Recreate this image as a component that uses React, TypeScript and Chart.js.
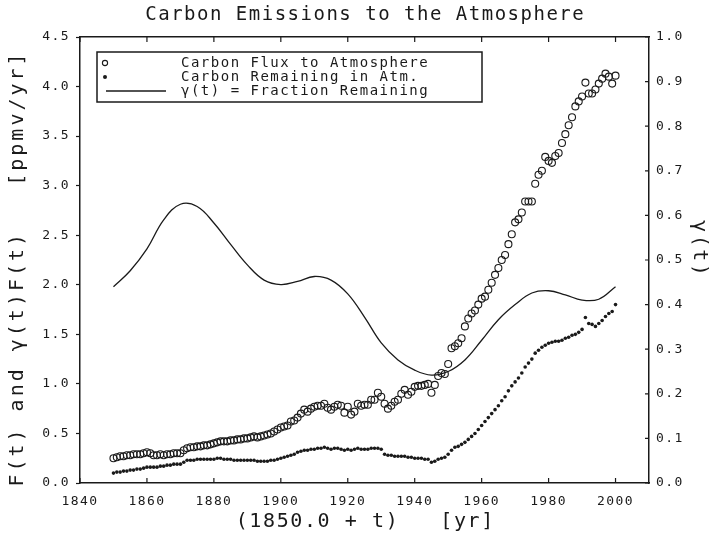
import { useEffect, useRef } from 'react';
import { Chart, registerables } from 'chart.js';
Chart.register(...registerables);

const years = [
  1850,1851,1852,1853,1854,1855,1856,1857,1858,1859,
  1860,1861,1862,1863,1864,1865,1866,1867,1868,1869,
  1870,1871,1872,1873,1874,1875,1876,1877,1878,1879,
  1880,1881,1882,1883,1884,1885,1886,1887,1888,1889,
  1890,1891,1892,1893,1894,1895,1896,1897,1898,1899,
  1900,1901,1902,1903,1904,1905,1906,1907,1908,1909,
  1910,1911,1912,1913,1914,1915,1916,1917,1918,1919,
  1920,1921,1922,1923,1924,1925,1926,1927,1928,1929,
  1930,1931,1932,1933,1934,1935,1936,1937,1938,1939,
  1940,1941,1942,1943,1944,1945,1946,1947,1948,1949,
  1950,1951,1952,1953,1954,1955,1956,1957,1958,1959,
  1960,1961,1962,1963,1964,1965,1966,1967,1968,1969,
  1970,1971,1972,1973,1974,1975,1976,1977,1978,1979,
  1980,1981,1982,1983,1984,1985,1986,1987,1988,1989,
  1990,1991,1992,1993,1994,1995,1996,1997,1998,1999,
  2000,
];

const fluxToAtmosphere = [
  0.25,0.26,0.27,0.27,0.28,0.28,0.29,0.29,0.29,0.30,
  0.31,0.30,0.28,0.28,0.29,0.28,0.29,0.29,0.30,0.30,
  0.30,0.33,0.35,0.36,0.36,0.37,0.37,0.38,0.38,0.39,
  0.40,0.41,0.42,0.42,0.42,0.43,0.43,0.44,0.44,0.45,
  0.45,0.46,0.47,0.46,0.47,0.48,0.49,0.50,0.52,0.54,
  0.56,0.57,0.58,0.62,0.63,0.66,0.70,0.74,0.72,0.75,
  0.77,0.78,0.78,0.80,0.76,0.74,0.77,0.79,0.78,0.71,
  0.77,0.69,0.72,0.80,0.78,0.79,0.79,0.84,0.84,0.91,
  0.87,0.80,0.75,0.78,0.82,0.84,0.90,0.94,0.89,0.92,
  0.97,0.98,0.98,0.99,1.00,0.91,0.99,1.08,1.11,1.10,
  1.20,1.36,1.38,1.41,1.46,1.58,1.66,1.71,1.74,1.80,
  1.86,1.88,1.95,2.02,2.10,2.17,2.25,2.30,2.41,2.51,
  2.63,2.66,2.73,2.84,2.84,2.84,3.02,3.11,3.15,3.29,
  3.25,3.23,3.30,3.33,3.43,3.52,3.61,3.69,3.80,3.85,
  3.90,4.04,3.93,3.93,3.97,4.03,4.08,4.13,4.10,4.03,
  4.11,
];

const remainingInAtm = [
  0.10,0.11,0.11,0.12,0.12,0.13,0.13,0.14,0.14,0.15,
  0.16,0.16,0.16,0.16,0.17,0.17,0.18,0.18,0.19,0.19,
  0.19,0.21,0.23,0.23,0.23,0.24,0.24,0.24,0.24,0.24,
  0.24,0.25,0.25,0.24,0.24,0.24,0.23,0.23,0.23,0.23,
  0.23,0.23,0.23,0.22,0.22,0.22,0.22,0.23,0.23,0.24,
  0.25,0.26,0.27,0.28,0.29,0.31,0.32,0.33,0.33,0.34,
  0.34,0.35,0.35,0.36,0.35,0.34,0.35,0.35,0.34,0.33,
  0.34,0.33,0.34,0.35,0.34,0.34,0.34,0.35,0.35,0.35,
  0.34,0.29,0.28,0.28,0.27,0.27,0.27,0.27,0.26,0.26,
  0.25,0.25,0.25,0.24,0.24,0.21,0.22,0.24,0.25,0.26,
  0.29,0.33,0.36,0.37,0.39,0.41,0.44,0.47,0.50,0.54,
  0.58,0.62,0.66,0.70,0.74,0.78,0.83,0.87,0.93,0.98,
  1.02,1.06,1.11,1.17,1.21,1.25,1.31,1.34,1.37,1.39,
  1.41,1.42,1.43,1.43,1.44,1.46,1.47,1.49,1.50,1.52,
  1.55,1.67,1.61,1.60,1.58,1.61,1.64,1.68,1.71,1.73,
  1.80,
];

const gammaYears = [
  1850,1855,1860,1865,1870,1875,1880,1885,1890,1895,
  1900,1905,1910,1915,1920,1925,1930,1935,1940,1945,
  1950,1955,1960,1965,1970,1975,1980,1985,1990,1995,2000,
];
const gammaFraction = [
  0.440,0.476,0.525,0.590,0.625,0.620,0.583,0.535,0.489,0.455,
  0.445,0.452,0.463,0.455,0.424,0.372,0.314,0.276,0.253,0.242,
  0.250,0.276,0.320,0.366,0.400,0.426,0.431,0.422,0.410,0.412,0.440,
];

const leftTicks = [0, 0.5, 1.0, 1.5, 2.0, 2.5, 3.0, 3.5, 4.0, 4.5];
const rightTicks = [0, 0.1, 0.2, 0.3, 0.4, 0.5, 0.6, 0.7, 0.8, 0.9, 1.0];
const xTicks = [1840, 1860, 1880, 1900, 1920, 1940, 1960, 1980, 2000];

const titleText = 'Carbon Emissions to the Atmosphere';
const xTitle = '(1850.0 + t)   [yr]';
const yTitle = 'F(t) and \u03b3(t)F(t)   [ppmv/yr]';
const y2Title = '\u03b3(t)';
const legendLabels = [
  'Carbon Flux to Atmosphere',
  'Carbon Remaining in Atm.',
  '\u03b3(t) = Fraction Remaining',
];

const FONT = "'DejaVu Sans Mono', monospace";
const INK = '#1a1a1a';

function drawSpaced(ctx: any, text: string, x: number, y: number, size: number, ls: number, align: string) {
  ctx.save();
  ctx.font = `${size}px ${FONT}`;
  ctx.fillStyle = INK;
  ctx.textBaseline = 'middle';
  (ctx as any).letterSpacing = `${ls}px`;
  const w = ctx.measureText(text).width;
  ctx.textAlign = 'left';
  let sx = x;
  if (align === 'center') sx = x - (w - ls) / 2;
  ctx.fillText(text, sx, y);
  ctx.restore();
}

const decorPlugin = {
  id: 'decor',
  beforeDraw(chart: any) {
    (chart.ctx as any).letterSpacing = '1.4px';
  },
  afterDraw(chart: any) {
    const ctx = chart.ctx;
    const { left, right, top, bottom } = chart.chartArea;
    const xs = chart.scales.x;
    const y2 = chart.scales.y2;
    ctx.save();
    ctx.strokeStyle = INK;
    ctx.lineWidth = 1.2;
    ctx.beginPath();
    xTicks.forEach((v) => {
      const px = xs.getPixelForValue(v);
      ctx.moveTo(px, bottom);
      ctx.lineTo(px, bottom - 5);
      ctx.moveTo(px, top);
      ctx.lineTo(px, top + 5);
    });
    rightTicks.forEach((v) => {
      const py = y2.getPixelForValue(v);
      ctx.moveTo(right, py);
      ctx.lineTo(right - 4, py);
    });
    ctx.stroke();
    ctx.restore();

    const cx = (left + right) / 2;
    drawSpaced(ctx, titleText, cx, 15, 19, 1.5, 'center');
    drawSpaced(ctx, xTitle, cx, 522, 20, 1.6, 'center');

    ctx.save();
    ctx.translate(18, 270);
    ctx.rotate(-Math.PI / 2);
    drawSpaced(ctx, yTitle, 0, 0, 20, 3.0, 'center');
    ctx.restore();

    ctx.save();
    ctx.translate(699, 248);
    ctx.rotate(Math.PI / 2);
    drawSpaced(ctx, y2Title, 0, 0, 20, 2.5, 'center');
    ctx.restore();

    const bx = 97, by = 52, bw = 385, bh = 50;
    ctx.save();
    ctx.strokeStyle = INK;
    ctx.lineWidth = 1.5;
    ctx.strokeRect(bx, by, bw, bh);
    const rows = [by + 11, by + 25, by + 39];
    ctx.lineWidth = 1.1;
    ctx.beginPath();
    ctx.arc(105, rows[0], 2.6, 0, Math.PI * 2);
    ctx.stroke();
    ctx.fillStyle = INK;
    ctx.beginPath();
    ctx.arc(105, rows[1], 2.0, 0, Math.PI * 2);
    ctx.fill();
    ctx.lineWidth = 1.3;
    ctx.beginPath();
    ctx.moveTo(106, rows[2]);
    ctx.lineTo(166, rows[2]);
    ctx.stroke();
    ctx.restore();
    legendLabels.forEach((t, i) => drawSpaced(ctx, t, 181, rows[i], 14, 1.5, 'left'));
  },
};

export default function App() {
  const ref = useRef<HTMLCanvasElement | null>(null);
  useEffect(() => {
    if (!ref.current) return;
    const fluxPts = years.map((y, i) => ({ x: y, y: fluxToAtmosphere[i] }));
    const remPts = years.map((y, i) => ({ x: y, y: remainingInAtm[i] }));
    const gamPts = gammaYears.map((y, i) => ({ x: y, y: gammaFraction[i] }));
    const tickFont = { family: FONT, size: 13 };
    const chart = new Chart(ref.current, {
      type: 'scatter',
      data: {
        datasets: [
          {
            label: legendLabels[2],
            data: gamPts,
            yAxisID: 'y2',
            showLine: true,
            tension: 0.4,
            borderColor: INK,
            borderWidth: 1.3,
            pointRadius: 0,
            fill: false,
          },
          {
            label: legendLabels[0],
            data: fluxPts,
            yAxisID: 'y',
            showLine: false,
            pointStyle: 'circle',
            pointRadius: 3.5,
            borderWidth: 1.1,
            borderColor: INK,
            backgroundColor: 'rgba(0,0,0,0)',
          },
          {
            label: legendLabels[1],
            data: remPts,
            yAxisID: 'y',
            showLine: false,
            pointStyle: 'circle',
            pointRadius: 1.8,
            borderWidth: 0,
            backgroundColor: INK,
          },
        ],
      },
      options: {
        responsive: false,
        animation: false,
        layout: { padding: 0 },
        plugins: {
          legend: { display: false },
          title: { display: false },
          tooltip: { enabled: false },
        },
        scales: {
          x: {
            type: 'linear',
            position: 'bottom',
            min: 1840,
            max: 2010,
            afterFit: (s: any) => { s.height = 56; },
            afterBuildTicks: (s: any) => { s.ticks = xTicks.map((v) => ({ value: v })); },
            grid: { drawOnChartArea: false, drawTicks: false },
            border: { display: true, color: INK, width: 1.5 },
            ticks: {
              padding: 11,
              color: INK,
              font: tickFont,
              autoSkip: false,
              maxRotation: 0,
              callback: (v: any) => String(v),
            },
          },
          x2: {
            type: 'linear',
            position: 'top',
            min: 1840,
            max: 2010,
            afterFit: (s: any) => { s.height = 37; },
            grid: { drawOnChartArea: false, drawTicks: false },
            border: { display: true, color: INK, width: 1.5 },
            ticks: { display: false },
          },
          y: {
            type: 'linear',
            position: 'left',
            min: 0,
            max: 4.5,
            afterFit: (s: any) => { s.width = 80; },
            afterBuildTicks: (s: any) => { s.ticks = leftTicks.map((v) => ({ value: v })); },
            grid: { drawOnChartArea: false, drawTicks: true, tickLength: 4, color: INK, tickWidth: 1.2 },
            border: { display: true, color: INK, width: 1.5 },
            ticks: {
              padding: 6,
              color: INK,
              font: tickFont,
              callback: (v: any) => Number(v).toFixed(1),
            },
          },
          y2: {
            type: 'linear',
            position: 'right',
            min: 0,
            max: 1,
            afterFit: (s: any) => { s.width = 66; },
            afterBuildTicks: (s: any) => { s.ticks = rightTicks.map((v) => ({ value: v })); },
            grid: { drawOnChartArea: false, drawTicks: false },
            border: { display: true, color: INK, width: 1.5 },
            ticks: {
              padding: 7,
              color: INK,
              font: tickFont,
              callback: (v: any) => Number(v).toFixed(1),
            },
          },
        },
      },
      plugins: [decorPlugin],
    } as any);
    return () => chart.destroy();
  }, []);
  return (
    <div style={{ position: 'fixed', left: 0, top: 0, width: 715, height: 539, background: '#fff' }}>
      <canvas ref={ref} width={715} height={539} style={{ width: 715, height: 539, display: 'block' }} />
    </div>
  );
}
